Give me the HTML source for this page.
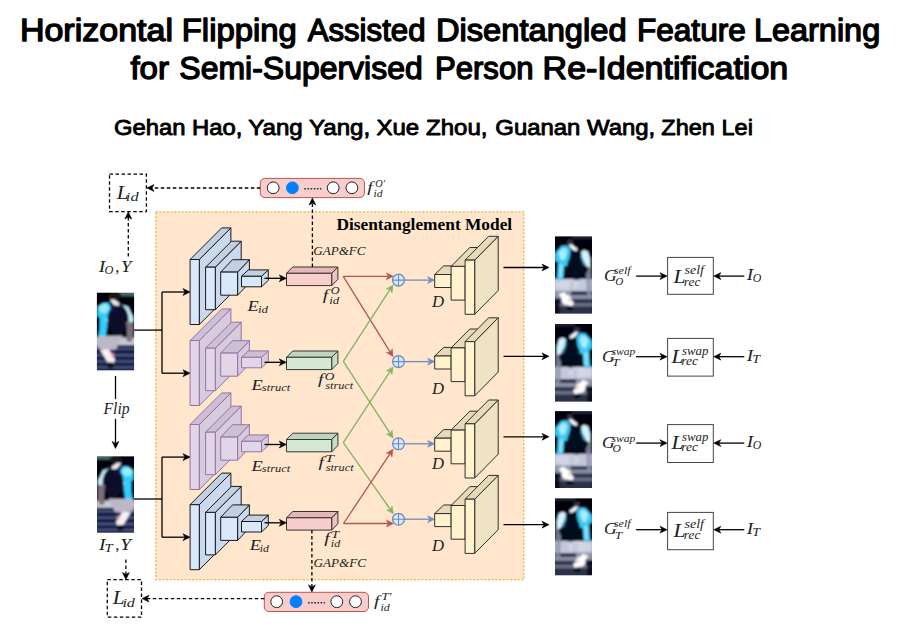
<!DOCTYPE html><html><head><meta charset="utf-8"><style>html,body{margin:0;padding:0;background:#fff;}svg{display:block;}</style></head><body>
<svg width="898" height="642" viewBox="0 0 898 642">
<defs><filter id="bl" x="-20%" y="-20%" width="140%" height="140%"><feGaussianBlur stdDeviation="1.0"/></filter><filter id="bl2" x="-20%" y="-20%" width="140%" height="140%"><feGaussianBlur stdDeviation="1.1"/></filter></defs>
<rect x="0" y="0" width="898" height="642" fill="#ffffff"/>
<text x="19.91" y="40.80" font-family="Liberation Sans" font-style="normal" font-weight="normal" font-size="31.50" fill="#000" stroke="#000" stroke-width="1.35" stroke-linejoin="round" textLength="153.06" lengthAdjust="spacingAndGlyphs">Horizontal</text>
<text x="181.81" y="40.80" font-family="Liberation Sans" font-style="normal" font-weight="normal" font-size="31.50" fill="#000" stroke="#000" stroke-width="1.35" stroke-linejoin="round" textLength="114.91" lengthAdjust="spacingAndGlyphs">Flipping</text>
<text x="307.64" y="40.80" font-family="Liberation Sans" font-style="normal" font-weight="normal" font-size="31.50" fill="#000" stroke="#000" stroke-width="1.35" stroke-linejoin="round" textLength="117.87" lengthAdjust="spacingAndGlyphs">Assisted</text>
<text x="435.92" y="40.80" font-family="Liberation Sans" font-style="normal" font-weight="normal" font-size="31.50" fill="#000" stroke="#000" stroke-width="1.35" stroke-linejoin="round" textLength="190.69" lengthAdjust="spacingAndGlyphs">Disentangled</text>
<text x="636.91" y="40.80" font-family="Liberation Sans" font-style="normal" font-weight="normal" font-size="31.50" fill="#000" stroke="#000" stroke-width="1.35" stroke-linejoin="round" textLength="108.90" lengthAdjust="spacingAndGlyphs">Feature</text>
<text x="753.94" y="40.80" font-family="Liberation Sans" font-style="normal" font-weight="normal" font-size="31.50" fill="#000" stroke="#000" stroke-width="1.35" stroke-linejoin="round" textLength="126.25" lengthAdjust="spacingAndGlyphs">Learning</text>
<text x="130.43" y="78.70" font-family="Liberation Sans" font-style="normal" font-weight="normal" font-size="31.50" fill="#000" stroke="#000" stroke-width="1.35" stroke-linejoin="round" textLength="38.52" lengthAdjust="spacingAndGlyphs">for</text>
<text x="179.35" y="78.70" font-family="Liberation Sans" font-style="normal" font-weight="normal" font-size="31.50" fill="#000" stroke="#000" stroke-width="1.35" stroke-linejoin="round" textLength="243.41" lengthAdjust="spacingAndGlyphs">Semi-Supervised</text>
<text x="434.95" y="78.70" font-family="Liberation Sans" font-style="normal" font-weight="normal" font-size="31.50" fill="#000" stroke="#000" stroke-width="1.35" stroke-linejoin="round" textLength="98.57" lengthAdjust="spacingAndGlyphs">Person</text>
<text x="542.61" y="78.70" font-family="Liberation Sans" font-style="normal" font-weight="normal" font-size="31.50" fill="#000" stroke="#000" stroke-width="1.35" stroke-linejoin="round" textLength="245.60" lengthAdjust="spacingAndGlyphs">Re-Identification</text>
<text x="113.90" y="134.50" font-family="Liberation Sans" font-style="normal" font-weight="normal" font-size="22.60" fill="#000" stroke="#000" stroke-width="0.9" stroke-linejoin="round" textLength="128.54" lengthAdjust="spacingAndGlyphs">Gehan Hao,</text>
<text x="248.19" y="134.50" font-family="Liberation Sans" font-style="normal" font-weight="normal" font-size="22.60" fill="#000" stroke="#000" stroke-width="0.9" stroke-linejoin="round" textLength="122.01" lengthAdjust="spacingAndGlyphs">Yang Yang,</text>
<text x="376.46" y="134.50" font-family="Liberation Sans" font-style="normal" font-weight="normal" font-size="22.60" fill="#000" stroke="#000" stroke-width="0.9" stroke-linejoin="round" textLength="111.00" lengthAdjust="spacingAndGlyphs">Xue Zhou,</text>
<text x="495.30" y="134.50" font-family="Liberation Sans" font-style="normal" font-weight="normal" font-size="22.60" fill="#000" stroke="#000" stroke-width="0.9" stroke-linejoin="round" textLength="159.93" lengthAdjust="spacingAndGlyphs">Guanan Wang,</text>
<text x="661.35" y="134.50" font-family="Liberation Sans" font-style="normal" font-weight="normal" font-size="22.60" fill="#000" stroke="#000" stroke-width="0.9" stroke-linejoin="round" textLength="91.53" lengthAdjust="spacingAndGlyphs">Zhen Lei</text>
<rect x="155.8" y="211.8" width="368" height="367.8" fill="#FFE6CC" stroke="#E9B44C" stroke-width="1.3" stroke-dasharray="2,1.7"/>
<text x="336.40" y="230.20" font-family="Liberation Serif" font-style="normal" font-weight="bold" font-size="16.40" fill="#000" textLength="175.80" lengthAdjust="spacingAndGlyphs">Disentanglement Model</text>
<polygon points="199.30,259.50 230.90,227.90 230.90,292.90 199.30,324.50" fill="#CBD9EE" stroke="#1a1a1a" stroke-width="1.0" stroke-linejoin="round" />
<polygon points="190.10,259.50 221.70,227.90 230.90,227.90 199.30,259.50" fill="#C3D0E2" stroke="#1a1a1a" stroke-width="1.0" stroke-linejoin="round" />
<polygon points="190.10,259.50 199.30,259.50 199.30,324.50 190.10,324.50" fill="#DAE8FC" stroke="#1a1a1a" stroke-width="1.0" stroke-linejoin="round" />
<polygon points="215.30,267.20 241.20,241.20 241.20,283.70 215.30,309.70" fill="#CBD9EE" stroke="#1a1a1a" stroke-width="1.0" stroke-linejoin="round" />
<polygon points="205.60,267.20 231.50,241.20 241.20,241.20 215.30,267.20" fill="#C3D0E2" stroke="#1a1a1a" stroke-width="1.0" stroke-linejoin="round" />
<polygon points="205.60,267.20 215.30,267.20 215.30,309.70 205.60,309.70" fill="#DAE8FC" stroke="#1a1a1a" stroke-width="1.0" stroke-linejoin="round" />
<polygon points="237.60,272.10 249.40,259.70 249.40,282.80 237.60,295.20" fill="#CBD9EE" stroke="#1a1a1a" stroke-width="1.0" stroke-linejoin="round" />
<polygon points="220.70,272.10 232.50,259.70 249.40,259.70 237.60,272.10" fill="#C3D0E2" stroke="#1a1a1a" stroke-width="1.0" stroke-linejoin="round" />
<polygon points="220.70,272.10 237.60,272.10 237.60,295.20 220.70,295.20" fill="#DAE8FC" stroke="#1a1a1a" stroke-width="1.0" stroke-linejoin="round" />
<polygon points="261.50,276.30 268.30,269.90 268.30,280.40 261.50,286.80" fill="#CBD9EE" stroke="#1a1a1a" stroke-width="1.0" stroke-linejoin="round" />
<polygon points="241.50,276.30 248.30,269.90 268.30,269.90 261.50,276.30" fill="#C3D0E2" stroke="#1a1a1a" stroke-width="1.0" stroke-linejoin="round" />
<polygon points="241.50,276.30 261.50,276.30 261.50,286.80 241.50,286.80" fill="#DAE8FC" stroke="#1a1a1a" stroke-width="1.0" stroke-linejoin="round" />
<polygon points="199.30,340.50 230.90,308.90 230.90,373.90 199.30,405.50" fill="#D7CBDD" stroke="#9673A6" stroke-width="1.0" stroke-linejoin="round" />
<polygon points="190.10,340.50 221.70,308.90 230.90,308.90 199.30,340.50" fill="#CDBFD4" stroke="#9673A6" stroke-width="1.0" stroke-linejoin="round" />
<polygon points="190.10,340.50 199.30,340.50 199.30,405.50 190.10,405.50" fill="#E1D5E7" stroke="#9673A6" stroke-width="1.0" stroke-linejoin="round" />
<polygon points="215.30,348.20 241.20,322.20 241.20,364.70 215.30,390.70" fill="#D7CBDD" stroke="#9673A6" stroke-width="1.0" stroke-linejoin="round" />
<polygon points="205.60,348.20 231.50,322.20 241.20,322.20 215.30,348.20" fill="#CDBFD4" stroke="#9673A6" stroke-width="1.0" stroke-linejoin="round" />
<polygon points="205.60,348.20 215.30,348.20 215.30,390.70 205.60,390.70" fill="#E1D5E7" stroke="#9673A6" stroke-width="1.0" stroke-linejoin="round" />
<polygon points="237.60,353.10 249.40,340.70 249.40,363.80 237.60,376.20" fill="#D7CBDD" stroke="#9673A6" stroke-width="1.0" stroke-linejoin="round" />
<polygon points="220.70,353.10 232.50,340.70 249.40,340.70 237.60,353.10" fill="#CDBFD4" stroke="#9673A6" stroke-width="1.0" stroke-linejoin="round" />
<polygon points="220.70,353.10 237.60,353.10 237.60,376.20 220.70,376.20" fill="#E1D5E7" stroke="#9673A6" stroke-width="1.0" stroke-linejoin="round" />
<polygon points="261.50,357.30 268.30,350.90 268.30,361.40 261.50,367.80" fill="#D7CBDD" stroke="#9673A6" stroke-width="1.0" stroke-linejoin="round" />
<polygon points="241.50,357.30 248.30,350.90 268.30,350.90 261.50,357.30" fill="#CDBFD4" stroke="#9673A6" stroke-width="1.0" stroke-linejoin="round" />
<polygon points="241.50,357.30 261.50,357.30 261.50,367.80 241.50,367.80" fill="#E1D5E7" stroke="#9673A6" stroke-width="1.0" stroke-linejoin="round" />
<polygon points="199.30,424.50 230.90,392.90 230.90,457.90 199.30,489.50" fill="#D7CBDD" stroke="#9673A6" stroke-width="1.0" stroke-linejoin="round" />
<polygon points="190.10,424.50 221.70,392.90 230.90,392.90 199.30,424.50" fill="#CDBFD4" stroke="#9673A6" stroke-width="1.0" stroke-linejoin="round" />
<polygon points="190.10,424.50 199.30,424.50 199.30,489.50 190.10,489.50" fill="#E1D5E7" stroke="#9673A6" stroke-width="1.0" stroke-linejoin="round" />
<polygon points="215.30,432.20 241.20,406.20 241.20,448.70 215.30,474.70" fill="#D7CBDD" stroke="#9673A6" stroke-width="1.0" stroke-linejoin="round" />
<polygon points="205.60,432.20 231.50,406.20 241.20,406.20 215.30,432.20" fill="#CDBFD4" stroke="#9673A6" stroke-width="1.0" stroke-linejoin="round" />
<polygon points="205.60,432.20 215.30,432.20 215.30,474.70 205.60,474.70" fill="#E1D5E7" stroke="#9673A6" stroke-width="1.0" stroke-linejoin="round" />
<polygon points="237.60,437.10 249.40,424.70 249.40,447.80 237.60,460.20" fill="#D7CBDD" stroke="#9673A6" stroke-width="1.0" stroke-linejoin="round" />
<polygon points="220.70,437.10 232.50,424.70 249.40,424.70 237.60,437.10" fill="#CDBFD4" stroke="#9673A6" stroke-width="1.0" stroke-linejoin="round" />
<polygon points="220.70,437.10 237.60,437.10 237.60,460.20 220.70,460.20" fill="#E1D5E7" stroke="#9673A6" stroke-width="1.0" stroke-linejoin="round" />
<polygon points="261.50,441.30 268.30,434.90 268.30,445.40 261.50,451.80" fill="#D7CBDD" stroke="#9673A6" stroke-width="1.0" stroke-linejoin="round" />
<polygon points="241.50,441.30 248.30,434.90 268.30,434.90 261.50,441.30" fill="#CDBFD4" stroke="#9673A6" stroke-width="1.0" stroke-linejoin="round" />
<polygon points="241.50,441.30 261.50,441.30 261.50,451.80 241.50,451.80" fill="#E1D5E7" stroke="#9673A6" stroke-width="1.0" stroke-linejoin="round" />
<polygon points="199.30,504.70 230.90,473.10 230.90,538.10 199.30,569.70" fill="#CBD9EE" stroke="#1a1a1a" stroke-width="1.0" stroke-linejoin="round" />
<polygon points="190.10,504.70 221.70,473.10 230.90,473.10 199.30,504.70" fill="#C3D0E2" stroke="#1a1a1a" stroke-width="1.0" stroke-linejoin="round" />
<polygon points="190.10,504.70 199.30,504.70 199.30,569.70 190.10,569.70" fill="#DAE8FC" stroke="#1a1a1a" stroke-width="1.0" stroke-linejoin="round" />
<polygon points="215.30,512.40 241.20,486.40 241.20,528.90 215.30,554.90" fill="#CBD9EE" stroke="#1a1a1a" stroke-width="1.0" stroke-linejoin="round" />
<polygon points="205.60,512.40 231.50,486.40 241.20,486.40 215.30,512.40" fill="#C3D0E2" stroke="#1a1a1a" stroke-width="1.0" stroke-linejoin="round" />
<polygon points="205.60,512.40 215.30,512.40 215.30,554.90 205.60,554.90" fill="#DAE8FC" stroke="#1a1a1a" stroke-width="1.0" stroke-linejoin="round" />
<polygon points="237.60,517.30 249.40,504.90 249.40,528.00 237.60,540.40" fill="#CBD9EE" stroke="#1a1a1a" stroke-width="1.0" stroke-linejoin="round" />
<polygon points="220.70,517.30 232.50,504.90 249.40,504.90 237.60,517.30" fill="#C3D0E2" stroke="#1a1a1a" stroke-width="1.0" stroke-linejoin="round" />
<polygon points="220.70,517.30 237.60,517.30 237.60,540.40 220.70,540.40" fill="#DAE8FC" stroke="#1a1a1a" stroke-width="1.0" stroke-linejoin="round" />
<polygon points="261.50,521.50 268.30,515.10 268.30,525.60 261.50,532.00" fill="#CBD9EE" stroke="#1a1a1a" stroke-width="1.0" stroke-linejoin="round" />
<polygon points="241.50,521.50 248.30,515.10 268.30,515.10 261.50,521.50" fill="#C3D0E2" stroke="#1a1a1a" stroke-width="1.0" stroke-linejoin="round" />
<polygon points="241.50,521.50 261.50,521.50 261.50,532.00 241.50,532.00" fill="#DAE8FC" stroke="#1a1a1a" stroke-width="1.0" stroke-linejoin="round" />
<polygon points="331.70,273.30 337.90,267.00 337.90,279.30 331.70,285.60" fill="#EDC3C1" stroke="#3a3030" stroke-width="1.0" stroke-linejoin="round" />
<polygon points="286.50,273.30 292.70,267.00 337.90,267.00 331.70,273.30" fill="#E3B9B7" stroke="#3a3030" stroke-width="1.0" stroke-linejoin="round" />
<polygon points="286.50,273.30 331.70,273.30 331.70,285.60 286.50,285.60" fill="#F8CECC" stroke="#3a3030" stroke-width="1.0" stroke-linejoin="round" />
<polygon points="331.70,357.30 337.90,351.00 337.90,363.30 331.70,369.60" fill="#CADDC9" stroke="#303a30" stroke-width="1.0" stroke-linejoin="round" />
<polygon points="286.50,357.30 292.70,351.00 337.90,351.00 331.70,357.30" fill="#C0D3BF" stroke="#303a30" stroke-width="1.0" stroke-linejoin="round" />
<polygon points="286.50,357.30 331.70,357.30 331.70,369.60 286.50,369.60" fill="#D5E8D4" stroke="#303a30" stroke-width="1.0" stroke-linejoin="round" />
<polygon points="331.70,439.50 337.90,433.20 337.90,445.50 331.70,451.80" fill="#CADDC9" stroke="#303a30" stroke-width="1.0" stroke-linejoin="round" />
<polygon points="286.50,439.50 292.70,433.20 337.90,433.20 331.70,439.50" fill="#C0D3BF" stroke="#303a30" stroke-width="1.0" stroke-linejoin="round" />
<polygon points="286.50,439.50 331.70,439.50 331.70,451.80 286.50,451.80" fill="#D5E8D4" stroke="#303a30" stroke-width="1.0" stroke-linejoin="round" />
<polygon points="331.70,517.80 337.90,511.50 337.90,523.80 331.70,530.10" fill="#EDC3C1" stroke="#3a3030" stroke-width="1.0" stroke-linejoin="round" />
<polygon points="286.50,517.80 292.70,511.50 337.90,511.50 331.70,517.80" fill="#E3B9B7" stroke="#3a3030" stroke-width="1.0" stroke-linejoin="round" />
<polygon points="286.50,517.80 331.70,517.80 331.70,530.10 286.50,530.10" fill="#F8CECC" stroke="#3a3030" stroke-width="1.0" stroke-linejoin="round" />
<path d="M264.50,278.30 L281.30,278.30" fill="none" stroke="#000" stroke-width="1.3"/>
<polygon points="286.30,278.30 279.30,281.70 281.30,278.30 279.30,274.90" fill="#000" stroke="#000" stroke-width="0.6" stroke-linejoin="miter"/>
<path d="M264.50,362.30 L281.30,362.30" fill="none" stroke="#000" stroke-width="1.3"/>
<polygon points="286.30,362.30 279.30,365.70 281.30,362.30 279.30,358.90" fill="#000" stroke="#000" stroke-width="0.6" stroke-linejoin="miter"/>
<path d="M264.50,444.50 L281.30,444.50" fill="none" stroke="#000" stroke-width="1.3"/>
<polygon points="286.30,444.50 279.30,447.90 281.30,444.50 279.30,441.10" fill="#000" stroke="#000" stroke-width="0.6" stroke-linejoin="miter"/>
<path d="M264.50,522.80 L281.30,522.80" fill="none" stroke="#000" stroke-width="1.3"/>
<polygon points="286.30,522.80 279.30,526.20 281.30,522.80 279.30,519.40" fill="#000" stroke="#000" stroke-width="0.6" stroke-linejoin="miter"/>
<path d="M343.30,276.30 L388.30,276.30" fill="none" stroke="#B85450" stroke-width="1.3"/>
<polygon points="393.30,276.30 386.30,279.70 388.30,276.30 386.30,272.90" fill="#B85450" stroke="#B85450" stroke-width="0.6" stroke-linejoin="miter"/>
<path d="M343.30,276.30 L390.37,352.35" fill="none" stroke="#B85450" stroke-width="1.3"/>
<polygon points="393.00,356.60 386.42,352.44 390.37,352.35 392.21,348.86" fill="#B85450" stroke="#B85450" stroke-width="0.6" stroke-linejoin="miter"/>
<path d="M343.30,361.40 L390.27,289.19" fill="none" stroke="#82B366" stroke-width="1.3"/>
<polygon points="393.00,285.00 392.03,292.72 390.27,289.19 386.33,289.01" fill="#82B366" stroke="#82B366" stroke-width="0.6" stroke-linejoin="miter"/>
<path d="M343.30,361.40 L390.28,433.71" fill="none" stroke="#82B366" stroke-width="1.3"/>
<polygon points="393.00,437.90 386.34,433.88 390.28,433.71 392.04,430.18" fill="#82B366" stroke="#82B366" stroke-width="0.6" stroke-linejoin="miter"/>
<path d="M343.30,442.60 L390.26,371.08" fill="none" stroke="#82B366" stroke-width="1.3"/>
<polygon points="393.00,366.90 392.00,374.62 390.26,371.08 386.32,370.89" fill="#82B366" stroke="#82B366" stroke-width="0.6" stroke-linejoin="miter"/>
<path d="M343.30,442.60 L390.52,509.71" fill="none" stroke="#82B366" stroke-width="1.3"/>
<polygon points="393.40,513.80 386.59,510.03 390.52,509.71 392.15,506.12" fill="#82B366" stroke="#82B366" stroke-width="0.6" stroke-linejoin="miter"/>
<path d="M343.50,523.50 L388.40,523.50" fill="none" stroke="#B85450" stroke-width="1.3"/>
<polygon points="393.40,523.50 386.40,526.90 388.40,523.50 386.40,520.10" fill="#B85450" stroke="#B85450" stroke-width="0.6" stroke-linejoin="miter"/>
<path d="M343.50,523.50 L390.23,453.46" fill="none" stroke="#B85450" stroke-width="1.3"/>
<polygon points="393.00,449.30 391.94,457.01 390.23,453.46 386.29,453.24" fill="#B85450" stroke="#B85450" stroke-width="0.6" stroke-linejoin="miter"/>
<circle cx="398.50" cy="280.10" r="5.9" fill="#DAE8FC" stroke="#6C8EBF" stroke-width="1.3"/>
<path d="M392.60,280.10 L404.40,280.10 M398.50,274.20 L398.50,286.00" stroke="#6C8EBF" stroke-width="1.1"/>
<path d="M404.70,280.10 L429.60,280.10" fill="none" stroke="#6C8EBF" stroke-width="1.3"/>
<polygon points="434.60,280.10 427.60,283.50 429.60,280.10 427.60,276.70" fill="#6C8EBF" stroke="#6C8EBF" stroke-width="0.6" stroke-linejoin="miter"/>
<circle cx="398.50" cy="361.60" r="5.9" fill="#DAE8FC" stroke="#6C8EBF" stroke-width="1.3"/>
<path d="M392.60,361.60 L404.40,361.60 M398.50,355.70 L398.50,367.50" stroke="#6C8EBF" stroke-width="1.1"/>
<path d="M404.70,361.60 L429.60,361.60" fill="none" stroke="#6C8EBF" stroke-width="1.3"/>
<polygon points="434.60,361.60 427.60,365.00 429.60,361.60 427.60,358.20" fill="#6C8EBF" stroke="#6C8EBF" stroke-width="0.6" stroke-linejoin="miter"/>
<circle cx="398.50" cy="443.80" r="5.9" fill="#DAE8FC" stroke="#6C8EBF" stroke-width="1.3"/>
<path d="M392.60,443.80 L404.40,443.80 M398.50,437.90 L398.50,449.70" stroke="#6C8EBF" stroke-width="1.1"/>
<path d="M404.70,443.80 L429.60,443.80" fill="none" stroke="#6C8EBF" stroke-width="1.3"/>
<polygon points="434.60,443.80 427.60,447.20 429.60,443.80 427.60,440.40" fill="#6C8EBF" stroke="#6C8EBF" stroke-width="0.6" stroke-linejoin="miter"/>
<circle cx="398.50" cy="519.20" r="5.9" fill="#DAE8FC" stroke="#6C8EBF" stroke-width="1.3"/>
<path d="M392.60,519.20 L404.40,519.20 M398.50,513.30 L398.50,525.10" stroke="#6C8EBF" stroke-width="1.1"/>
<path d="M404.70,519.20 L429.60,519.20" fill="none" stroke="#6C8EBF" stroke-width="1.3"/>
<polygon points="434.60,519.20 427.60,522.60 429.60,519.20 427.60,515.80" fill="#6C8EBF" stroke="#6C8EBF" stroke-width="0.6" stroke-linejoin="miter"/>
<polygon points="451.10,274.50 460.10,265.90 460.10,278.90 451.10,287.50" fill="#EEE3C2" stroke="#2f2f2f" stroke-width="1.0" stroke-linejoin="round" />
<polygon points="434.70,274.50 443.70,265.90 460.10,265.90 451.10,274.50" fill="#E6DAB8" stroke="#2f2f2f" stroke-width="1.0" stroke-linejoin="round" />
<polygon points="434.70,274.50 451.10,274.50 451.10,287.50 434.70,287.50" fill="#FFF2CC" stroke="#2f2f2f" stroke-width="1.0" stroke-linejoin="round" />
<polygon points="465.10,266.40 483.80,247.50 483.80,281.20 465.10,300.10" fill="#EEE3C2" stroke="#2f2f2f" stroke-width="1.0" stroke-linejoin="round" />
<polygon points="451.10,266.40 469.80,247.50 483.80,247.50 465.10,266.40" fill="#E6DAB8" stroke="#2f2f2f" stroke-width="1.0" stroke-linejoin="round" />
<polygon points="451.10,266.40 465.10,266.40 465.10,300.10 451.10,300.10" fill="#FFF2CC" stroke="#2f2f2f" stroke-width="1.0" stroke-linejoin="round" />
<polygon points="474.70,260.10 498.20,236.30 498.20,290.50 474.70,314.30" fill="#EEE3C2" stroke="#2f2f2f" stroke-width="1.0" stroke-linejoin="round" />
<polygon points="465.10,260.10 488.60,236.30 498.20,236.30 474.70,260.10" fill="#E6DAB8" stroke="#2f2f2f" stroke-width="1.0" stroke-linejoin="round" />
<polygon points="465.10,260.10 474.70,260.10 474.70,314.30 465.10,314.30" fill="#FFF2CC" stroke="#2f2f2f" stroke-width="1.0" stroke-linejoin="round" />
<polygon points="451.10,356.00 460.10,347.40 460.10,360.40 451.10,369.00" fill="#EEE3C2" stroke="#2f2f2f" stroke-width="1.0" stroke-linejoin="round" />
<polygon points="434.70,356.00 443.70,347.40 460.10,347.40 451.10,356.00" fill="#E6DAB8" stroke="#2f2f2f" stroke-width="1.0" stroke-linejoin="round" />
<polygon points="434.70,356.00 451.10,356.00 451.10,369.00 434.70,369.00" fill="#FFF2CC" stroke="#2f2f2f" stroke-width="1.0" stroke-linejoin="round" />
<polygon points="465.10,347.90 483.80,329.00 483.80,362.70 465.10,381.60" fill="#EEE3C2" stroke="#2f2f2f" stroke-width="1.0" stroke-linejoin="round" />
<polygon points="451.10,347.90 469.80,329.00 483.80,329.00 465.10,347.90" fill="#E6DAB8" stroke="#2f2f2f" stroke-width="1.0" stroke-linejoin="round" />
<polygon points="451.10,347.90 465.10,347.90 465.10,381.60 451.10,381.60" fill="#FFF2CC" stroke="#2f2f2f" stroke-width="1.0" stroke-linejoin="round" />
<polygon points="474.70,341.60 498.20,317.80 498.20,372.00 474.70,395.80" fill="#EEE3C2" stroke="#2f2f2f" stroke-width="1.0" stroke-linejoin="round" />
<polygon points="465.10,341.60 488.60,317.80 498.20,317.80 474.70,341.60" fill="#E6DAB8" stroke="#2f2f2f" stroke-width="1.0" stroke-linejoin="round" />
<polygon points="465.10,341.60 474.70,341.60 474.70,395.80 465.10,395.80" fill="#FFF2CC" stroke="#2f2f2f" stroke-width="1.0" stroke-linejoin="round" />
<polygon points="451.10,438.20 460.10,429.60 460.10,442.60 451.10,451.20" fill="#EEE3C2" stroke="#2f2f2f" stroke-width="1.0" stroke-linejoin="round" />
<polygon points="434.70,438.20 443.70,429.60 460.10,429.60 451.10,438.20" fill="#E6DAB8" stroke="#2f2f2f" stroke-width="1.0" stroke-linejoin="round" />
<polygon points="434.70,438.20 451.10,438.20 451.10,451.20 434.70,451.20" fill="#FFF2CC" stroke="#2f2f2f" stroke-width="1.0" stroke-linejoin="round" />
<polygon points="465.10,430.10 483.80,411.20 483.80,444.90 465.10,463.80" fill="#EEE3C2" stroke="#2f2f2f" stroke-width="1.0" stroke-linejoin="round" />
<polygon points="451.10,430.10 469.80,411.20 483.80,411.20 465.10,430.10" fill="#E6DAB8" stroke="#2f2f2f" stroke-width="1.0" stroke-linejoin="round" />
<polygon points="451.10,430.10 465.10,430.10 465.10,463.80 451.10,463.80" fill="#FFF2CC" stroke="#2f2f2f" stroke-width="1.0" stroke-linejoin="round" />
<polygon points="474.70,423.80 498.20,400.00 498.20,454.20 474.70,478.00" fill="#EEE3C2" stroke="#2f2f2f" stroke-width="1.0" stroke-linejoin="round" />
<polygon points="465.10,423.80 488.60,400.00 498.20,400.00 474.70,423.80" fill="#E6DAB8" stroke="#2f2f2f" stroke-width="1.0" stroke-linejoin="round" />
<polygon points="465.10,423.80 474.70,423.80 474.70,478.00 465.10,478.00" fill="#FFF2CC" stroke="#2f2f2f" stroke-width="1.0" stroke-linejoin="round" />
<polygon points="451.10,513.60 460.10,505.00 460.10,518.00 451.10,526.60" fill="#EEE3C2" stroke="#2f2f2f" stroke-width="1.0" stroke-linejoin="round" />
<polygon points="434.70,513.60 443.70,505.00 460.10,505.00 451.10,513.60" fill="#E6DAB8" stroke="#2f2f2f" stroke-width="1.0" stroke-linejoin="round" />
<polygon points="434.70,513.60 451.10,513.60 451.10,526.60 434.70,526.60" fill="#FFF2CC" stroke="#2f2f2f" stroke-width="1.0" stroke-linejoin="round" />
<polygon points="465.10,505.50 483.80,486.60 483.80,520.30 465.10,539.20" fill="#EEE3C2" stroke="#2f2f2f" stroke-width="1.0" stroke-linejoin="round" />
<polygon points="451.10,505.50 469.80,486.60 483.80,486.60 465.10,505.50" fill="#E6DAB8" stroke="#2f2f2f" stroke-width="1.0" stroke-linejoin="round" />
<polygon points="451.10,505.50 465.10,505.50 465.10,539.20 451.10,539.20" fill="#FFF2CC" stroke="#2f2f2f" stroke-width="1.0" stroke-linejoin="round" />
<polygon points="474.70,499.20 498.20,475.40 498.20,529.60 474.70,553.40" fill="#EEE3C2" stroke="#2f2f2f" stroke-width="1.0" stroke-linejoin="round" />
<polygon points="465.10,499.20 488.60,475.40 498.20,475.40 474.70,499.20" fill="#E6DAB8" stroke="#2f2f2f" stroke-width="1.0" stroke-linejoin="round" />
<polygon points="465.10,499.20 474.70,499.20 474.70,553.40 465.10,553.40" fill="#FFF2CC" stroke="#2f2f2f" stroke-width="1.0" stroke-linejoin="round" />
<text x="432.09" y="306.80" font-family="Liberation Serif" font-style="italic" font-weight="normal" font-size="16.34" fill="#1e1e1e" textLength="12.07" lengthAdjust="spacingAndGlyphs">D</text>
<text x="432.09" y="394.40" font-family="Liberation Serif" font-style="italic" font-weight="normal" font-size="16.04" fill="#1e1e1e" textLength="12.07" lengthAdjust="spacingAndGlyphs">D</text>
<text x="432.09" y="469.20" font-family="Liberation Serif" font-style="italic" font-weight="normal" font-size="16.19" fill="#1e1e1e" textLength="12.07" lengthAdjust="spacingAndGlyphs">D</text>
<text x="432.09" y="550.60" font-family="Liberation Serif" font-style="italic" font-weight="normal" font-size="16.19" fill="#1e1e1e" textLength="12.07" lengthAdjust="spacingAndGlyphs">D</text>
<path d="M503.50,267.50 L544.00,267.50" fill="none" stroke="#000" stroke-width="1.3"/>
<polygon points="549.00,267.50 542.00,270.90 544.00,267.50 542.00,264.10" fill="#000" stroke="#000" stroke-width="0.6" stroke-linejoin="miter"/>
<path d="M503.50,356.30 L544.00,356.30" fill="none" stroke="#000" stroke-width="1.3"/>
<polygon points="549.00,356.30 542.00,359.70 544.00,356.30 542.00,352.90" fill="#000" stroke="#000" stroke-width="0.6" stroke-linejoin="miter"/>
<path d="M503.50,436.80 L544.00,436.80" fill="none" stroke="#000" stroke-width="1.3"/>
<polygon points="549.00,436.80 542.00,440.20 544.00,436.80 542.00,433.40" fill="#000" stroke="#000" stroke-width="0.6" stroke-linejoin="miter"/>
<path d="M503.50,524.70 L544.00,524.70" fill="none" stroke="#000" stroke-width="1.3"/>
<polygon points="549.00,524.70 542.00,528.10 544.00,524.70 542.00,521.30" fill="#000" stroke="#000" stroke-width="0.6" stroke-linejoin="miter"/>
<clipPath id="c169"><rect x="555.00" y="236.50" width="37.00" height="77.00"/></clipPath>
<g clip-path="url(#c169)">
<rect x="555.00" y="236.50" width="37.00" height="77.00" fill="#03060f"/>
<g transform="translate(555.000,236.500) scale(1.00000,1.00000)" filter="url(#bl2)">
<rect x="-2.00" y="-2.00" width="41.00" height="81.00" fill="#03050e" opacity="1"/>
<rect x="17.00" y="-2.00" width="22.00" height="4.50" fill="#2a3040" opacity="0.7"/>
<ellipse cx="15.00" cy="6.00" rx="3.00" ry="3.00" fill="#5a5060" opacity="0.6"/>
<polygon points="-1.00,42.50 38.00,42.50 38.00,55.00 -1.00,55.00" fill="#c4c8da" opacity="1"/>
<ellipse cx="12.00" cy="48.50" rx="12.00" ry="5.00" fill="#d4d8e6" opacity="0.8"/>
<polygon points="14.00,45.00 19.50,45.00 18.50,55.00 15.00,55.00" fill="#a8aec2" opacity="0.35"/>
<polygon points="-1.00,55.00 38.00,55.00 38.00,79.00 -1.00,79.00" fill="#2c3248" opacity="1"/>
<polygon points="-1.00,54.00 16.00,54.00 16.00,59.00 -1.00,59.00" fill="#a8aec2" opacity="0.8"/>
<polygon points="-1.00,58.50 38.00,58.50 38.00,62.50 -1.00,62.50" fill="#9aa0b6" opacity="0.85"/>
<polygon points="-1.00,66.50 38.00,66.50 38.00,70.00 -1.00,70.00" fill="#7a8098" opacity="0.8"/>
<polygon points="-1.00,62.00 5.00,62.00 5.00,79.00 -1.00,79.00" fill="#0a0d1a" opacity="0.9"/>
<polygon points="30.50,30.00 36.00,30.00 37.00,60.00 32.00,60.00" fill="#8e96ae" opacity="0.8"/>
<polygon points="3.50,58.00 9.00,55.50 19.00,66.50 16.00,71.50" fill="#ffffff" opacity="1"/>
<ellipse cx="11.50" cy="63.50" rx="5.00" ry="5.00" fill="#ffffff" opacity="1" transform="rotate(-40 11.5 63.5)"/>
<ellipse cx="15.00" cy="63.00" rx="2.00" ry="2.50" fill="#e8b8b8" opacity="0.6"/>
<ellipse cx="15.00" cy="71.50" rx="3.50" ry="2.20" fill="#05070f" opacity="1"/>
<ellipse cx="21.50" cy="28.50" rx="12.00" ry="14.80" fill="#050b1f" opacity="1"/>
<polygon points="0.00,17.00 6.50,9.50 12.00,9.00 15.50,13.00 14.50,21.50 12.50,26.00 12.50,29.00 9.00,30.00 8.50,39.00 7.50,43.40 1.50,43.40 2.20,39.70 3.20,26.00 0.00,24.00" fill="#3ac8f6" opacity="1"/>
<polygon points="3.50,16.50 7.00,12.00 11.00,12.00 12.00,16.00 10.00,22.00 7.00,24.50 5.00,21.00" fill="#a8ecff" opacity="1"/>
<polygon points="4.50,28.00 8.00,28.00 7.50,41.00 4.00,41.00" fill="#90e4ff" opacity="0.9"/>
<polygon points="26.00,15.50 29.00,13.40 33.00,15.00 35.00,22.00 35.00,31.00 31.50,30.00 27.50,22.00" fill="#d4f4ff" opacity="1"/>
<polygon points="26.00,15.50 27.50,22.00 31.00,29.00 28.50,29.00 25.50,21.00" fill="#40c0f0" opacity="0.7"/>
<polygon points="13.30,8.50 16.50,7.80 22.70,12.50 21.50,14.70 17.00,13.00" fill="#f4fbff" opacity="1"/>
</g></g>
<clipPath id="c197"><rect x="555.00" y="324.00" width="37.00" height="77.50"/></clipPath>
<g clip-path="url(#c197)">
<rect x="555.00" y="324.00" width="37.00" height="77.50" fill="#03060f"/>
<g transform="translate(592.000,324.000) scale(-1.00000,1.00649)" filter="url(#bl2)">
<rect x="-2.00" y="-2.00" width="41.00" height="81.00" fill="#03050e" opacity="1"/>
<rect x="17.00" y="-2.00" width="22.00" height="4.50" fill="#2a3040" opacity="0.7"/>
<ellipse cx="15.00" cy="6.00" rx="3.00" ry="3.00" fill="#5a5060" opacity="0.6"/>
<polygon points="-1.00,42.50 38.00,42.50 38.00,55.00 -1.00,55.00" fill="#c4c8da" opacity="1"/>
<ellipse cx="12.00" cy="48.50" rx="12.00" ry="5.00" fill="#d4d8e6" opacity="0.8"/>
<polygon points="14.00,45.00 19.50,45.00 18.50,55.00 15.00,55.00" fill="#a8aec2" opacity="0.35"/>
<polygon points="-1.00,55.00 38.00,55.00 38.00,79.00 -1.00,79.00" fill="#2c3248" opacity="1"/>
<polygon points="-1.00,54.00 16.00,54.00 16.00,59.00 -1.00,59.00" fill="#a8aec2" opacity="0.8"/>
<polygon points="-1.00,58.50 38.00,58.50 38.00,62.50 -1.00,62.50" fill="#9aa0b6" opacity="0.85"/>
<polygon points="-1.00,66.50 38.00,66.50 38.00,70.00 -1.00,70.00" fill="#7a8098" opacity="0.8"/>
<polygon points="-1.00,62.00 5.00,62.00 5.00,79.00 -1.00,79.00" fill="#0a0d1a" opacity="0.9"/>
<polygon points="30.50,30.00 36.00,30.00 37.00,60.00 32.00,60.00" fill="#8e96ae" opacity="0.8"/>
<polygon points="3.50,58.00 9.00,55.50 19.00,66.50 16.00,71.50" fill="#ffffff" opacity="1"/>
<ellipse cx="11.50" cy="63.50" rx="5.00" ry="5.00" fill="#ffffff" opacity="1" transform="rotate(-40 11.5 63.5)"/>
<ellipse cx="15.00" cy="63.00" rx="2.00" ry="2.50" fill="#e8b8b8" opacity="0.6"/>
<ellipse cx="15.00" cy="71.50" rx="3.50" ry="2.20" fill="#05070f" opacity="1"/>
<ellipse cx="21.50" cy="28.50" rx="12.00" ry="14.80" fill="#050b1f" opacity="1"/>
<polygon points="0.00,17.00 6.50,9.50 12.00,9.00 15.50,13.00 14.50,21.50 12.50,26.00 12.50,29.00 9.00,30.00 8.50,39.00 7.50,43.40 1.50,43.40 2.20,39.70 3.20,26.00 0.00,24.00" fill="#3ac8f6" opacity="1"/>
<polygon points="3.50,16.50 7.00,12.00 11.00,12.00 12.00,16.00 10.00,22.00 7.00,24.50 5.00,21.00" fill="#a8ecff" opacity="1"/>
<polygon points="4.50,28.00 8.00,28.00 7.50,41.00 4.00,41.00" fill="#90e4ff" opacity="0.9"/>
<polygon points="26.00,15.50 29.00,13.40 33.00,15.00 35.00,22.00 35.00,31.00 31.50,30.00 27.50,22.00" fill="#d4f4ff" opacity="1"/>
<polygon points="26.00,15.50 27.50,22.00 31.00,29.00 28.50,29.00 25.50,21.00" fill="#40c0f0" opacity="0.7"/>
<polygon points="13.30,8.50 16.50,7.80 22.70,12.50 21.50,14.70 17.00,13.00" fill="#f4fbff" opacity="1"/>
</g></g>
<clipPath id="c225"><rect x="555.00" y="411.30" width="37.00" height="76.70"/></clipPath>
<g clip-path="url(#c225)">
<rect x="555.00" y="411.30" width="37.00" height="76.70" fill="#03060f"/>
<g transform="translate(555.000,411.300) scale(1.00000,0.99610)" filter="url(#bl2)">
<rect x="-2.00" y="-2.00" width="41.00" height="81.00" fill="#03050e" opacity="1"/>
<rect x="17.00" y="-2.00" width="22.00" height="4.50" fill="#2a3040" opacity="0.7"/>
<ellipse cx="15.00" cy="6.00" rx="3.00" ry="3.00" fill="#5a5060" opacity="0.6"/>
<polygon points="-1.00,42.50 38.00,42.50 38.00,55.00 -1.00,55.00" fill="#c4c8da" opacity="1"/>
<ellipse cx="12.00" cy="48.50" rx="12.00" ry="5.00" fill="#d4d8e6" opacity="0.8"/>
<polygon points="14.00,45.00 19.50,45.00 18.50,55.00 15.00,55.00" fill="#a8aec2" opacity="0.35"/>
<polygon points="-1.00,55.00 38.00,55.00 38.00,79.00 -1.00,79.00" fill="#2c3248" opacity="1"/>
<polygon points="-1.00,54.00 16.00,54.00 16.00,59.00 -1.00,59.00" fill="#a8aec2" opacity="0.8"/>
<polygon points="-1.00,58.50 38.00,58.50 38.00,62.50 -1.00,62.50" fill="#9aa0b6" opacity="0.85"/>
<polygon points="-1.00,66.50 38.00,66.50 38.00,70.00 -1.00,70.00" fill="#7a8098" opacity="0.8"/>
<polygon points="-1.00,62.00 5.00,62.00 5.00,79.00 -1.00,79.00" fill="#0a0d1a" opacity="0.9"/>
<polygon points="30.50,30.00 36.00,30.00 37.00,60.00 32.00,60.00" fill="#8e96ae" opacity="0.8"/>
<polygon points="3.50,58.00 9.00,55.50 19.00,66.50 16.00,71.50" fill="#ffffff" opacity="1"/>
<ellipse cx="11.50" cy="63.50" rx="5.00" ry="5.00" fill="#ffffff" opacity="1" transform="rotate(-40 11.5 63.5)"/>
<ellipse cx="15.00" cy="63.00" rx="2.00" ry="2.50" fill="#e8b8b8" opacity="0.6"/>
<ellipse cx="15.00" cy="71.50" rx="3.50" ry="2.20" fill="#05070f" opacity="1"/>
<ellipse cx="21.50" cy="28.50" rx="12.00" ry="14.80" fill="#050b1f" opacity="1"/>
<polygon points="0.00,17.00 6.50,9.50 12.00,9.00 15.50,13.00 14.50,21.50 12.50,26.00 12.50,29.00 9.00,30.00 8.50,39.00 7.50,43.40 1.50,43.40 2.20,39.70 3.20,26.00 0.00,24.00" fill="#3ac8f6" opacity="1"/>
<polygon points="3.50,16.50 7.00,12.00 11.00,12.00 12.00,16.00 10.00,22.00 7.00,24.50 5.00,21.00" fill="#a8ecff" opacity="1"/>
<polygon points="4.50,28.00 8.00,28.00 7.50,41.00 4.00,41.00" fill="#90e4ff" opacity="0.9"/>
<polygon points="26.00,15.50 29.00,13.40 33.00,15.00 35.00,22.00 35.00,31.00 31.50,30.00 27.50,22.00" fill="#d4f4ff" opacity="1"/>
<polygon points="26.00,15.50 27.50,22.00 31.00,29.00 28.50,29.00 25.50,21.00" fill="#40c0f0" opacity="0.7"/>
<polygon points="13.30,8.50 16.50,7.80 22.70,12.50 21.50,14.70 17.00,13.00" fill="#f4fbff" opacity="1"/>
</g></g>
<clipPath id="c253"><rect x="555.00" y="498.40" width="37.00" height="76.80"/></clipPath>
<g clip-path="url(#c253)">
<rect x="555.00" y="498.40" width="37.00" height="76.80" fill="#03060f"/>
<g transform="translate(592.000,498.400) scale(-1.00000,0.99740)" filter="url(#bl2)">
<rect x="-2.00" y="-2.00" width="41.00" height="81.00" fill="#03050e" opacity="1"/>
<rect x="17.00" y="-2.00" width="22.00" height="4.50" fill="#2a3040" opacity="0.7"/>
<ellipse cx="15.00" cy="6.00" rx="3.00" ry="3.00" fill="#5a5060" opacity="0.6"/>
<polygon points="-1.00,42.50 38.00,42.50 38.00,55.00 -1.00,55.00" fill="#c4c8da" opacity="1"/>
<ellipse cx="12.00" cy="48.50" rx="12.00" ry="5.00" fill="#d4d8e6" opacity="0.8"/>
<polygon points="14.00,45.00 19.50,45.00 18.50,55.00 15.00,55.00" fill="#a8aec2" opacity="0.35"/>
<polygon points="-1.00,55.00 38.00,55.00 38.00,79.00 -1.00,79.00" fill="#2c3248" opacity="1"/>
<polygon points="-1.00,54.00 16.00,54.00 16.00,59.00 -1.00,59.00" fill="#a8aec2" opacity="0.8"/>
<polygon points="-1.00,58.50 38.00,58.50 38.00,62.50 -1.00,62.50" fill="#9aa0b6" opacity="0.85"/>
<polygon points="-1.00,66.50 38.00,66.50 38.00,70.00 -1.00,70.00" fill="#7a8098" opacity="0.8"/>
<polygon points="-1.00,62.00 5.00,62.00 5.00,79.00 -1.00,79.00" fill="#0a0d1a" opacity="0.9"/>
<polygon points="30.50,30.00 36.00,30.00 37.00,60.00 32.00,60.00" fill="#8e96ae" opacity="0.8"/>
<polygon points="3.50,58.00 9.00,55.50 19.00,66.50 16.00,71.50" fill="#ffffff" opacity="1"/>
<ellipse cx="11.50" cy="63.50" rx="5.00" ry="5.00" fill="#ffffff" opacity="1" transform="rotate(-40 11.5 63.5)"/>
<ellipse cx="15.00" cy="63.00" rx="2.00" ry="2.50" fill="#e8b8b8" opacity="0.6"/>
<ellipse cx="15.00" cy="71.50" rx="3.50" ry="2.20" fill="#05070f" opacity="1"/>
<ellipse cx="21.50" cy="28.50" rx="12.00" ry="14.80" fill="#050b1f" opacity="1"/>
<polygon points="0.00,17.00 6.50,9.50 12.00,9.00 15.50,13.00 14.50,21.50 12.50,26.00 12.50,29.00 9.00,30.00 8.50,39.00 7.50,43.40 1.50,43.40 2.20,39.70 3.20,26.00 0.00,24.00" fill="#3ac8f6" opacity="1"/>
<polygon points="3.50,16.50 7.00,12.00 11.00,12.00 12.00,16.00 10.00,22.00 7.00,24.50 5.00,21.00" fill="#a8ecff" opacity="1"/>
<polygon points="4.50,28.00 8.00,28.00 7.50,41.00 4.00,41.00" fill="#90e4ff" opacity="0.9"/>
<polygon points="26.00,15.50 29.00,13.40 33.00,15.00 35.00,22.00 35.00,31.00 31.50,30.00 27.50,22.00" fill="#d4f4ff" opacity="1"/>
<polygon points="26.00,15.50 27.50,22.00 31.00,29.00 28.50,29.00 25.50,21.00" fill="#40c0f0" opacity="0.7"/>
<polygon points="13.30,8.50 16.50,7.80 22.70,12.50 21.50,14.70 17.00,13.00" fill="#f4fbff" opacity="1"/>
</g></g>
<clipPath id="c281"><rect x="96.90" y="292.80" width="37.20" height="77.40"/></clipPath>
<g clip-path="url(#c281)">
<rect x="96.90" y="292.80" width="37.20" height="77.40" fill="#03060f"/>
<g transform="translate(96.900,292.800) scale(1.00541,1.00519)" filter="url(#bl)">
<rect x="-2.00" y="-2.00" width="41.00" height="81.00" fill="#04050c" opacity="1"/>
<rect x="21.00" y="-2.00" width="18.00" height="5.20" fill="#486864" opacity="1"/>
<rect x="-2.00" y="51.50" width="41.00" height="30.00" fill="#191e46" opacity="1"/>
<rect x="-2.00" y="54.50" width="41.00" height="2.00" fill="#56648c" opacity="0.9"/>
<rect x="-2.00" y="61.00" width="41.00" height="2.00" fill="#56648c" opacity="0.9"/>
<rect x="-2.00" y="67.30" width="41.00" height="2.00" fill="#56648c" opacity="0.9"/>
<rect x="-2.00" y="73.20" width="41.00" height="2.00" fill="#56648c" opacity="0.9"/>
<polygon points="-1.00,44.50 38.00,44.50 38.00,52.00 -1.00,52.00" fill="#c6cad6" opacity="1"/>
<ellipse cx="18.00" cy="3.50" rx="6.50" ry="4.50" fill="#121218" opacity="1"/>
<polygon points="0.50,14.00 7.00,10.00 14.50,10.50 15.00,18.00 11.00,27.00 9.50,38.00 9.00,43.00 1.50,43.50 2.80,36.00 3.00,25.00 0.50,23.00" fill="#32ceff" opacity="1"/>
<ellipse cx="7.00" cy="15.50" rx="5.00" ry="4.50" fill="#98ecff" opacity="1" transform="rotate(-25 7 15.5)"/>
<ellipse cx="10.50" cy="27.00" rx="1.30" ry="1.20" fill="#ffffff" opacity="1"/>
<polygon points="24.50,12.00 31.00,14.00 36.00,24.00 36.00,29.00 31.00,29.00 27.00,22.00" fill="#c4f0fc" opacity="1"/>
<polygon points="24.50,12.00 27.00,12.50 28.00,24.00 26.00,24.00" fill="#50c8f0" opacity="0.8"/>
<ellipse cx="21.00" cy="26.50" rx="10.50" ry="15.00" fill="#0a0e2a" opacity="1"/>
<polygon points="12.00,11.00 15.00,10.00 19.00,18.00 16.00,20.00" fill="#0e1650" opacity="1"/>
<polygon points="12.80,7.00 17.00,6.50 22.50,10.50 22.00,13.00 17.00,12.50" fill="#f2eaf2" opacity="1"/>
<polygon points="29.00,29.00 36.00,29.00 36.00,44.00 34.00,49.00 29.50,48.00 30.00,38.00" fill="#7e7078" opacity="1"/>
<polygon points="0.50,43.00 26.00,42.50 22.00,50.00 19.00,56.30 12.00,57.00 0.50,55.00" fill="#bcb8c8" opacity="1"/>
<polygon points="3.00,56.50 11.50,56.00 18.00,66.00 17.00,69.50 10.60,69.00" fill="#f8f0f2" opacity="1"/>
<ellipse cx="15.50" cy="62.00" rx="2.00" ry="2.50" fill="#f0a0b0" opacity="0.7"/>
<ellipse cx="13.50" cy="72.00" rx="3.50" ry="2.60" fill="#0a0a12" opacity="1"/>
</g></g>
<clipPath id="c308"><rect x="97.10" y="456.40" width="36.90" height="76.20"/></clipPath>
<g clip-path="url(#c308)">
<rect x="97.10" y="456.40" width="36.90" height="76.20" fill="#03060f"/>
<g transform="translate(134.000,456.400) scale(-0.99730,0.98961)" filter="url(#bl)">
<rect x="-2.00" y="-2.00" width="41.00" height="81.00" fill="#04050c" opacity="1"/>
<rect x="21.00" y="-2.00" width="18.00" height="5.20" fill="#486864" opacity="1"/>
<rect x="-2.00" y="51.50" width="41.00" height="30.00" fill="#191e46" opacity="1"/>
<rect x="-2.00" y="54.50" width="41.00" height="2.00" fill="#56648c" opacity="0.9"/>
<rect x="-2.00" y="61.00" width="41.00" height="2.00" fill="#56648c" opacity="0.9"/>
<rect x="-2.00" y="67.30" width="41.00" height="2.00" fill="#56648c" opacity="0.9"/>
<rect x="-2.00" y="73.20" width="41.00" height="2.00" fill="#56648c" opacity="0.9"/>
<polygon points="-1.00,44.50 38.00,44.50 38.00,52.00 -1.00,52.00" fill="#c6cad6" opacity="1"/>
<ellipse cx="18.00" cy="3.50" rx="6.50" ry="4.50" fill="#121218" opacity="1"/>
<polygon points="0.50,14.00 7.00,10.00 14.50,10.50 15.00,18.00 11.00,27.00 9.50,38.00 9.00,43.00 1.50,43.50 2.80,36.00 3.00,25.00 0.50,23.00" fill="#32ceff" opacity="1"/>
<ellipse cx="7.00" cy="15.50" rx="5.00" ry="4.50" fill="#98ecff" opacity="1" transform="rotate(-25 7 15.5)"/>
<ellipse cx="10.50" cy="27.00" rx="1.30" ry="1.20" fill="#ffffff" opacity="1"/>
<polygon points="24.50,12.00 31.00,14.00 36.00,24.00 36.00,29.00 31.00,29.00 27.00,22.00" fill="#c4f0fc" opacity="1"/>
<polygon points="24.50,12.00 27.00,12.50 28.00,24.00 26.00,24.00" fill="#50c8f0" opacity="0.8"/>
<ellipse cx="21.00" cy="26.50" rx="10.50" ry="15.00" fill="#0a0e2a" opacity="1"/>
<polygon points="12.00,11.00 15.00,10.00 19.00,18.00 16.00,20.00" fill="#0e1650" opacity="1"/>
<polygon points="12.80,7.00 17.00,6.50 22.50,10.50 22.00,13.00 17.00,12.50" fill="#f2eaf2" opacity="1"/>
<polygon points="29.00,29.00 36.00,29.00 36.00,44.00 34.00,49.00 29.50,48.00 30.00,38.00" fill="#7e7078" opacity="1"/>
<polygon points="0.50,43.00 26.00,42.50 22.00,50.00 19.00,56.30 12.00,57.00 0.50,55.00" fill="#bcb8c8" opacity="1"/>
<polygon points="3.00,56.50 11.50,56.00 18.00,66.00 17.00,69.50 10.60,69.00" fill="#f8f0f2" opacity="1"/>
<ellipse cx="15.50" cy="62.00" rx="2.00" ry="2.50" fill="#f0a0b0" opacity="0.7"/>
<ellipse cx="13.50" cy="72.00" rx="3.50" ry="2.60" fill="#0a0a12" opacity="1"/>
</g></g>
<path d="M134.10,330.10 L162.00,330.10" fill="none" stroke="#000" stroke-width="1.3"/>
<path d="M162.00,292.00 L162.00,373.20" fill="none" stroke="#000" stroke-width="1.3"/>
<path d="M162.00,292.00 L185.00,292.00" fill="none" stroke="#000" stroke-width="1.3"/>
<polygon points="190.00,292.00 183.00,295.40 185.00,292.00 183.00,288.60" fill="#000" stroke="#000" stroke-width="0.6" stroke-linejoin="miter"/>
<path d="M162.00,373.20 L185.00,373.20" fill="none" stroke="#000" stroke-width="1.3"/>
<polygon points="190.00,373.20 183.00,376.60 185.00,373.20 183.00,369.80" fill="#000" stroke="#000" stroke-width="0.6" stroke-linejoin="miter"/>
<path d="M134.00,499.00 L162.00,499.00" fill="none" stroke="#000" stroke-width="1.3"/>
<path d="M162.00,457.10 L162.00,537.20" fill="none" stroke="#000" stroke-width="1.3"/>
<path d="M162.00,457.10 L185.00,457.10" fill="none" stroke="#000" stroke-width="1.3"/>
<polygon points="190.00,457.10 183.00,460.50 185.00,457.10 183.00,453.70" fill="#000" stroke="#000" stroke-width="0.6" stroke-linejoin="miter"/>
<path d="M162.00,537.20 L185.00,537.20" fill="none" stroke="#000" stroke-width="1.3"/>
<polygon points="190.00,537.20 183.00,540.60 185.00,537.20 183.00,533.80" fill="#000" stroke="#000" stroke-width="0.6" stroke-linejoin="miter"/>
<path d="M115.50,375.90 L115.50,399.20" fill="none" stroke="#000" stroke-width="1.3"/>
<path d="M115.50,418.80 L115.50,443.40" fill="none" stroke="#000" stroke-width="1.3"/>
<polygon points="115.50,448.40 112.10,441.40 115.50,443.40 118.90,441.40" fill="#000" stroke="#000" stroke-width="0.6" stroke-linejoin="miter"/>
<text x="103.48" y="413.90" font-family="Liberation Serif" font-style="italic" font-weight="normal" font-size="16.00" fill="#1e1e1e" textLength="26.09" lengthAdjust="spacingAndGlyphs">Flip</text>
<text x="247.61" y="311.40" font-family="Liberation Serif" font-style="italic" font-weight="normal" font-size="14.70" fill="#1e1e1e" textLength="11.18" lengthAdjust="spacingAndGlyphs">E</text>
<text x="257.98" y="313.40" font-family="Liberation Serif" font-style="italic" font-weight="normal" font-size="11.00" fill="#1e1e1e" textLength="10.09" lengthAdjust="spacingAndGlyphs">id</text>
<text x="251.61" y="390.00" font-family="Liberation Serif" font-style="italic" font-weight="normal" font-size="14.70" fill="#1e1e1e" textLength="11.18" lengthAdjust="spacingAndGlyphs">E</text>
<text x="261.85" y="391.40" font-family="Liberation Serif" font-style="italic" font-weight="normal" font-size="11.00" fill="#1e1e1e" textLength="28.40" lengthAdjust="spacingAndGlyphs">struct</text>
<text x="251.61" y="470.70" font-family="Liberation Serif" font-style="italic" font-weight="normal" font-size="14.70" fill="#1e1e1e" textLength="11.18" lengthAdjust="spacingAndGlyphs">E</text>
<text x="261.85" y="471.80" font-family="Liberation Serif" font-style="italic" font-weight="normal" font-size="11.00" fill="#1e1e1e" textLength="28.40" lengthAdjust="spacingAndGlyphs">struct</text>
<text x="249.81" y="550.10" font-family="Liberation Serif" font-style="italic" font-weight="normal" font-size="14.70" fill="#1e1e1e" textLength="11.18" lengthAdjust="spacingAndGlyphs">E</text>
<text x="259.84" y="552.00" font-family="Liberation Serif" font-style="italic" font-weight="normal" font-size="11.00" fill="#1e1e1e" textLength="9.23" lengthAdjust="spacingAndGlyphs">id</text>
<text x="322.68" y="299.50" font-family="Liberation Serif" font-style="italic" font-weight="normal" font-size="15.50" fill="#1e1e1e" textLength="5.46" lengthAdjust="spacingAndGlyphs">f</text>
<text x="330.79" y="294.00" font-family="Liberation Serif" font-style="italic" font-weight="normal" font-size="10.80" fill="#1e1e1e" textLength="8.80" lengthAdjust="spacingAndGlyphs">O</text>
<text x="329.29" y="304.30" font-family="Liberation Serif" font-style="italic" font-weight="normal" font-size="10.80" fill="#1e1e1e" textLength="9.98" lengthAdjust="spacingAndGlyphs">id</text>
<text x="317.98" y="384.30" font-family="Liberation Serif" font-style="italic" font-weight="normal" font-size="15.50" fill="#1e1e1e" textLength="5.46" lengthAdjust="spacingAndGlyphs">f</text>
<text x="324.83" y="379.80" font-family="Liberation Serif" font-style="italic" font-weight="normal" font-size="10.80" fill="#1e1e1e" textLength="9.69" lengthAdjust="spacingAndGlyphs">O</text>
<text x="325.35" y="388.70" font-family="Liberation Serif" font-style="italic" font-weight="normal" font-size="10.80" fill="#1e1e1e" textLength="27.70" lengthAdjust="spacingAndGlyphs">struct</text>
<text x="318.58" y="466.60" font-family="Liberation Serif" font-style="italic" font-weight="normal" font-size="15.50" fill="#1e1e1e" textLength="5.46" lengthAdjust="spacingAndGlyphs">f</text>
<text x="325.14" y="462.20" font-family="Liberation Serif" font-style="italic" font-weight="normal" font-size="10.80" fill="#1e1e1e" textLength="9.00" lengthAdjust="spacingAndGlyphs">T</text>
<text x="325.65" y="470.70" font-family="Liberation Serif" font-style="italic" font-weight="normal" font-size="10.80" fill="#1e1e1e" textLength="28.00" lengthAdjust="spacingAndGlyphs">struct</text>
<text x="324.28" y="542.50" font-family="Liberation Serif" font-style="italic" font-weight="normal" font-size="15.50" fill="#1e1e1e" textLength="5.46" lengthAdjust="spacingAndGlyphs">f</text>
<text x="331.27" y="538.00" font-family="Liberation Serif" font-style="italic" font-weight="normal" font-size="10.80" fill="#1e1e1e" textLength="7.89" lengthAdjust="spacingAndGlyphs">T</text>
<text x="330.83" y="547.00" font-family="Liberation Serif" font-style="italic" font-weight="normal" font-size="10.80" fill="#1e1e1e" textLength="9.34" lengthAdjust="spacingAndGlyphs">id</text>
<text x="367.18" y="192.00" font-family="Liberation Serif" font-style="italic" font-weight="normal" font-size="15.50" fill="#1e1e1e" textLength="5.46" lengthAdjust="spacingAndGlyphs">f</text>
<text x="375.28" y="186.50" font-family="Liberation Serif" font-style="italic" font-weight="normal" font-size="10.80" fill="#1e1e1e" textLength="9.68" lengthAdjust="spacingAndGlyphs">O&#8242;</text>
<text x="373.55" y="197.00" font-family="Liberation Serif" font-style="italic" font-weight="normal" font-size="10.80" fill="#1e1e1e" textLength="9.02" lengthAdjust="spacingAndGlyphs">id</text>
<text x="374.08" y="605.50" font-family="Liberation Serif" font-style="italic" font-weight="normal" font-size="15.50" fill="#1e1e1e" textLength="5.46" lengthAdjust="spacingAndGlyphs">f</text>
<text x="381.55" y="600.20" font-family="Liberation Serif" font-style="italic" font-weight="normal" font-size="10.80" fill="#1e1e1e" textLength="9.97" lengthAdjust="spacingAndGlyphs">T&#8242;</text>
<text x="380.43" y="610.60" font-family="Liberation Serif" font-style="italic" font-weight="normal" font-size="10.80" fill="#1e1e1e" textLength="9.34" lengthAdjust="spacingAndGlyphs">id</text>
<path d="M312.40,267.10 L312.40,203.00" fill="none" stroke="#000" stroke-width="1.3" stroke-dasharray="3.5,2.5"/>
<polygon points="312.40,198.00 315.80,205.00 312.40,203.00 309.00,205.00" fill="#000" stroke="#000" stroke-width="0.6" stroke-linejoin="miter"/>
<text x="313.22" y="255.20" font-family="Liberation Serif" font-style="italic" font-weight="normal" font-size="13.20" fill="#222" textLength="52.40" lengthAdjust="spacingAndGlyphs">GAP&amp;FC</text>
<path d="M311.90,530.00 L311.90,586.90" fill="none" stroke="#000" stroke-width="1.3" stroke-dasharray="3.5,2.5"/>
<polygon points="311.90,591.90 308.50,584.90 311.90,586.90 315.30,584.90" fill="#000" stroke="#000" stroke-width="0.6" stroke-linejoin="miter"/>
<text x="313.52" y="567.00" font-family="Liberation Serif" font-style="italic" font-weight="normal" font-size="13.20" fill="#222" textLength="52.60" lengthAdjust="spacingAndGlyphs">GAP&amp;FC</text>
<rect x="260.30" y="178.40" width="104.10" height="19.20" rx="4.5" fill="#F8CECC" stroke="#B85450" stroke-width="1.0"/>
<circle cx="273.20" cy="187.80" r="5.9" fill="#ffffff" stroke="#222" stroke-width="1.0"/>
<circle cx="292.40" cy="187.80" r="5.9" fill="#007FFF" stroke="#007FFF" stroke-width="1.0"/>
<circle cx="333.20" cy="187.80" r="5.9" fill="#ffffff" stroke="#222" stroke-width="1.0"/>
<circle cx="351.90" cy="187.80" r="5.9" fill="#ffffff" stroke="#222" stroke-width="1.0"/>
<path d="M304.30,188.80 L321.30,188.80" stroke="#2a2a2a" stroke-width="1.6" stroke-dasharray="1.6,1.55"/>
<rect x="264.30" y="592.30" width="104.20" height="19.20" rx="4.5" fill="#F8CECC" stroke="#B85450" stroke-width="1.0"/>
<circle cx="276.70" cy="601.70" r="5.9" fill="#ffffff" stroke="#222" stroke-width="1.0"/>
<circle cx="296.00" cy="601.70" r="5.9" fill="#007FFF" stroke="#007FFF" stroke-width="1.0"/>
<circle cx="336.80" cy="601.70" r="5.9" fill="#ffffff" stroke="#222" stroke-width="1.0"/>
<circle cx="355.50" cy="601.70" r="5.9" fill="#ffffff" stroke="#222" stroke-width="1.0"/>
<path d="M308.00,602.70 L325.00,602.70" stroke="#2a2a2a" stroke-width="1.6" stroke-dasharray="1.6,1.55"/>
<path d="M260.30,188.00 L152.00,188.00" fill="none" stroke="#000" stroke-width="1.3" stroke-dasharray="3.5,2.5"/>
<polygon points="147.00,188.00 154.00,184.60 152.00,188.00 154.00,191.40" fill="#000" stroke="#000" stroke-width="0.6" stroke-linejoin="miter"/>
<path d="M264.30,598.60 L147.00,598.60" fill="none" stroke="#000" stroke-width="1.3" stroke-dasharray="3.5,2.5"/>
<polygon points="142.00,598.60 149.00,595.20 147.00,598.60 149.00,602.00" fill="#000" stroke="#000" stroke-width="0.6" stroke-linejoin="miter"/>
<rect x="109.5" y="174.2" width="36.9" height="37.4" fill="none" stroke="#000" stroke-width="1.3" stroke-dasharray="3.5,2.5"/>
<rect x="107.3" y="579.6" width="34.2" height="37.6" fill="none" stroke="#000" stroke-width="1.3" stroke-dasharray="3.5,2.5"/>
<text x="116.65" y="199.10" font-family="Liberation Serif" font-style="italic" font-weight="normal" font-size="18.30" fill="#1e1e1e" textLength="11.86" lengthAdjust="spacingAndGlyphs">L</text>
<text x="125.89" y="201.40" font-family="Liberation Serif" font-style="italic" font-weight="normal" font-size="12.00" fill="#1e1e1e" textLength="12.77" lengthAdjust="spacingAndGlyphs">id</text>
<text x="112.75" y="604.30" font-family="Liberation Serif" font-style="italic" font-weight="normal" font-size="18.30" fill="#1e1e1e" textLength="11.86" lengthAdjust="spacingAndGlyphs">L</text>
<text x="122.40" y="607.10" font-family="Liberation Serif" font-style="italic" font-weight="normal" font-size="12.00" fill="#1e1e1e" textLength="12.56" lengthAdjust="spacingAndGlyphs">id</text>
<path d="M128.30,256.60 L128.30,217.00" fill="none" stroke="#000" stroke-width="1.3" stroke-dasharray="3.5,2.5"/>
<polygon points="128.30,212.00 131.70,219.00 128.30,217.00 124.90,219.00" fill="#000" stroke="#000" stroke-width="0.6" stroke-linejoin="miter"/>
<path d="M125.90,559.40 L125.90,574.60" fill="none" stroke="#000" stroke-width="1.3" stroke-dasharray="3.5,2.5"/>
<polygon points="125.90,579.60 122.50,572.60 125.90,574.60 129.30,572.60" fill="#000" stroke="#000" stroke-width="0.6" stroke-linejoin="miter"/>
<text x="98.78" y="271.90" font-family="Liberation Serif" font-style="italic" font-weight="normal" font-size="17.00" fill="#1e1e1e" textLength="6.47" lengthAdjust="spacingAndGlyphs">I</text>
<text x="104.48" y="274.40" font-family="Liberation Serif" font-style="italic" font-weight="normal" font-size="11.50" fill="#1e1e1e" textLength="8.91" lengthAdjust="spacingAndGlyphs">O</text>
<text x="115.16" y="271.90" font-family="Liberation Serif" font-style="normal" font-weight="normal" font-size="17.00" fill="#1e1e1e" textLength="4.20" lengthAdjust="spacingAndGlyphs">,</text>
<text x="120.93" y="271.90" font-family="Liberation Serif" font-style="italic" font-weight="normal" font-size="17.00" fill="#1e1e1e" textLength="10.41" lengthAdjust="spacingAndGlyphs">Y</text>
<text x="98.98" y="550.00" font-family="Liberation Serif" font-style="italic" font-weight="normal" font-size="17.00" fill="#1e1e1e" textLength="6.47" lengthAdjust="spacingAndGlyphs">I</text>
<text x="104.55" y="552.40" font-family="Liberation Serif" font-style="italic" font-weight="normal" font-size="11.50" fill="#1e1e1e" textLength="8.09" lengthAdjust="spacingAndGlyphs">T</text>
<text x="115.36" y="550.00" font-family="Liberation Serif" font-style="normal" font-weight="normal" font-size="17.00" fill="#1e1e1e" textLength="4.20" lengthAdjust="spacingAndGlyphs">,</text>
<text x="120.39" y="550.00" font-family="Liberation Serif" font-style="italic" font-weight="normal" font-size="17.00" fill="#1e1e1e" textLength="10.78" lengthAdjust="spacingAndGlyphs">Y</text>
<rect x="667.6" y="257.40" width="45.7" height="36.90" fill="#fff" stroke="#444" stroke-width="1.0"/>
<path d="M636.10,276.10 L662.00,276.10" fill="none" stroke="#000" stroke-width="1.3"/>
<polygon points="667.00,276.10 660.00,279.50 662.00,276.10 660.00,272.70" fill="#000" stroke="#000" stroke-width="0.6" stroke-linejoin="miter"/>
<path d="M744.30,276.10 L718.80,276.10" fill="none" stroke="#000" stroke-width="1.3"/>
<polygon points="713.80,276.10 720.80,272.70 718.80,276.10 720.80,279.50" fill="#000" stroke="#000" stroke-width="0.6" stroke-linejoin="miter"/>
<text x="604.13" y="280.70" font-family="Liberation Serif" font-style="italic" font-weight="normal" font-size="16.20" fill="#1e1e1e" textLength="12.75" lengthAdjust="spacingAndGlyphs">G</text>
<text x="613.85" y="273.50" font-family="Liberation Serif" font-style="italic" font-weight="normal" font-size="11.20" fill="#1e1e1e" textLength="16.76" lengthAdjust="spacingAndGlyphs">self</text>
<text x="615.14" y="285.10" font-family="Liberation Serif" font-style="italic" font-weight="normal" font-size="11.20" fill="#1e1e1e" textLength="8.02" lengthAdjust="spacingAndGlyphs">O</text>
<text x="673.45" y="283.10" font-family="Liberation Serif" font-style="italic" font-weight="normal" font-size="18.30" fill="#1e1e1e" textLength="12.07" lengthAdjust="spacingAndGlyphs">L</text>
<text x="684.43" y="274.30" font-family="Liberation Serif" font-style="italic" font-weight="normal" font-size="12.40" fill="#1e1e1e" textLength="19.55" lengthAdjust="spacingAndGlyphs">self</text>
<text x="683.88" y="285.60" font-family="Liberation Serif" font-style="italic" font-weight="normal" font-size="12.40" fill="#1e1e1e" textLength="16.46" lengthAdjust="spacingAndGlyphs">rec</text>
<text x="746.87" y="280.10" font-family="Liberation Serif" font-style="italic" font-weight="normal" font-size="16.80" fill="#1e1e1e" textLength="6.38" lengthAdjust="spacingAndGlyphs">I</text>
<text x="752.70" y="282.40" font-family="Liberation Serif" font-style="italic" font-weight="normal" font-size="11.50" fill="#1e1e1e" textLength="8.58" lengthAdjust="spacingAndGlyphs">O</text>
<rect x="667.6" y="338.40" width="45.7" height="37.70" fill="#fff" stroke="#444" stroke-width="1.0"/>
<path d="M636.10,356.70 L662.00,356.70" fill="none" stroke="#000" stroke-width="1.3"/>
<polygon points="667.00,356.70 660.00,360.10 662.00,356.70 660.00,353.30" fill="#000" stroke="#000" stroke-width="0.6" stroke-linejoin="miter"/>
<path d="M744.30,356.70 L718.80,356.70" fill="none" stroke="#000" stroke-width="1.3"/>
<polygon points="713.80,356.70 720.80,353.30 718.80,356.70 720.80,360.10" fill="#000" stroke="#000" stroke-width="0.6" stroke-linejoin="miter"/>
<text x="601.93" y="361.90" font-family="Liberation Serif" font-style="italic" font-weight="normal" font-size="16.20" fill="#1e1e1e" textLength="12.75" lengthAdjust="spacingAndGlyphs">G</text>
<text x="611.46" y="355.20" font-family="Liberation Serif" font-style="italic" font-weight="normal" font-size="11.20" fill="#1e1e1e" textLength="23.89" lengthAdjust="spacingAndGlyphs">swap</text>
<text x="612.11" y="366.00" font-family="Liberation Serif" font-style="italic" font-weight="normal" font-size="11.20" fill="#1e1e1e" textLength="7.59" lengthAdjust="spacingAndGlyphs">T</text>
<text x="671.45" y="363.00" font-family="Liberation Serif" font-style="italic" font-weight="normal" font-size="18.30" fill="#1e1e1e" textLength="12.07" lengthAdjust="spacingAndGlyphs">L</text>
<text x="682.04" y="354.50" font-family="Liberation Serif" font-style="italic" font-weight="normal" font-size="12.40" fill="#1e1e1e" textLength="26.45" lengthAdjust="spacingAndGlyphs">swap</text>
<text x="681.37" y="364.80" font-family="Liberation Serif" font-style="italic" font-weight="normal" font-size="12.40" fill="#1e1e1e" textLength="16.77" lengthAdjust="spacingAndGlyphs">rec</text>
<text x="746.87" y="360.70" font-family="Liberation Serif" font-style="italic" font-weight="normal" font-size="16.80" fill="#1e1e1e" textLength="6.38" lengthAdjust="spacingAndGlyphs">I</text>
<text x="752.38" y="363.00" font-family="Liberation Serif" font-style="italic" font-weight="normal" font-size="11.50" fill="#1e1e1e" textLength="7.79" lengthAdjust="spacingAndGlyphs">T</text>
<rect x="667.6" y="424.60" width="45.7" height="37.90" fill="#fff" stroke="#444" stroke-width="1.0"/>
<path d="M636.10,443.10 L662.00,443.10" fill="none" stroke="#000" stroke-width="1.3"/>
<polygon points="667.00,443.10 660.00,446.50 662.00,443.10 660.00,439.70" fill="#000" stroke="#000" stroke-width="0.6" stroke-linejoin="miter"/>
<path d="M744.30,443.10 L718.80,443.10" fill="none" stroke="#000" stroke-width="1.3"/>
<polygon points="713.80,443.10 720.80,439.70 718.80,443.10 720.80,446.50" fill="#000" stroke="#000" stroke-width="0.6" stroke-linejoin="miter"/>
<text x="601.93" y="448.30" font-family="Liberation Serif" font-style="italic" font-weight="normal" font-size="16.20" fill="#1e1e1e" textLength="12.75" lengthAdjust="spacingAndGlyphs">G</text>
<text x="611.46" y="441.60" font-family="Liberation Serif" font-style="italic" font-weight="normal" font-size="11.20" fill="#1e1e1e" textLength="23.89" lengthAdjust="spacingAndGlyphs">swap</text>
<text x="612.42" y="452.40" font-family="Liberation Serif" font-style="italic" font-weight="normal" font-size="11.20" fill="#1e1e1e" textLength="8.35" lengthAdjust="spacingAndGlyphs">O</text>
<text x="671.45" y="449.40" font-family="Liberation Serif" font-style="italic" font-weight="normal" font-size="18.30" fill="#1e1e1e" textLength="12.07" lengthAdjust="spacingAndGlyphs">L</text>
<text x="682.04" y="440.90" font-family="Liberation Serif" font-style="italic" font-weight="normal" font-size="12.40" fill="#1e1e1e" textLength="26.45" lengthAdjust="spacingAndGlyphs">swap</text>
<text x="681.37" y="451.20" font-family="Liberation Serif" font-style="italic" font-weight="normal" font-size="12.40" fill="#1e1e1e" textLength="16.77" lengthAdjust="spacingAndGlyphs">rec</text>
<text x="746.87" y="447.10" font-family="Liberation Serif" font-style="italic" font-weight="normal" font-size="16.80" fill="#1e1e1e" textLength="6.38" lengthAdjust="spacingAndGlyphs">I</text>
<text x="752.70" y="449.40" font-family="Liberation Serif" font-style="italic" font-weight="normal" font-size="11.50" fill="#1e1e1e" textLength="8.58" lengthAdjust="spacingAndGlyphs">O</text>
<rect x="667.6" y="512.40" width="45.7" height="37.30" fill="#fff" stroke="#444" stroke-width="1.0"/>
<path d="M636.10,529.70 L662.00,529.70" fill="none" stroke="#000" stroke-width="1.3"/>
<polygon points="667.00,529.70 660.00,533.10 662.00,529.70 660.00,526.30" fill="#000" stroke="#000" stroke-width="0.6" stroke-linejoin="miter"/>
<path d="M744.30,529.70 L718.80,529.70" fill="none" stroke="#000" stroke-width="1.3"/>
<polygon points="713.80,529.70 720.80,526.30 718.80,529.70 720.80,533.10" fill="#000" stroke="#000" stroke-width="0.6" stroke-linejoin="miter"/>
<text x="604.13" y="534.30" font-family="Liberation Serif" font-style="italic" font-weight="normal" font-size="16.20" fill="#1e1e1e" textLength="12.75" lengthAdjust="spacingAndGlyphs">G</text>
<text x="613.85" y="527.10" font-family="Liberation Serif" font-style="italic" font-weight="normal" font-size="11.20" fill="#1e1e1e" textLength="16.76" lengthAdjust="spacingAndGlyphs">self</text>
<text x="614.84" y="538.70" font-family="Liberation Serif" font-style="italic" font-weight="normal" font-size="11.20" fill="#1e1e1e" textLength="7.28" lengthAdjust="spacingAndGlyphs">T</text>
<text x="673.45" y="536.70" font-family="Liberation Serif" font-style="italic" font-weight="normal" font-size="18.30" fill="#1e1e1e" textLength="12.07" lengthAdjust="spacingAndGlyphs">L</text>
<text x="684.43" y="527.90" font-family="Liberation Serif" font-style="italic" font-weight="normal" font-size="12.40" fill="#1e1e1e" textLength="19.55" lengthAdjust="spacingAndGlyphs">self</text>
<text x="683.88" y="539.20" font-family="Liberation Serif" font-style="italic" font-weight="normal" font-size="12.40" fill="#1e1e1e" textLength="16.46" lengthAdjust="spacingAndGlyphs">rec</text>
<text x="746.87" y="533.70" font-family="Liberation Serif" font-style="italic" font-weight="normal" font-size="16.80" fill="#1e1e1e" textLength="6.38" lengthAdjust="spacingAndGlyphs">I</text>
<text x="752.38" y="536.00" font-family="Liberation Serif" font-style="italic" font-weight="normal" font-size="11.50" fill="#1e1e1e" textLength="7.79" lengthAdjust="spacingAndGlyphs">T</text>
</svg></body></html>
